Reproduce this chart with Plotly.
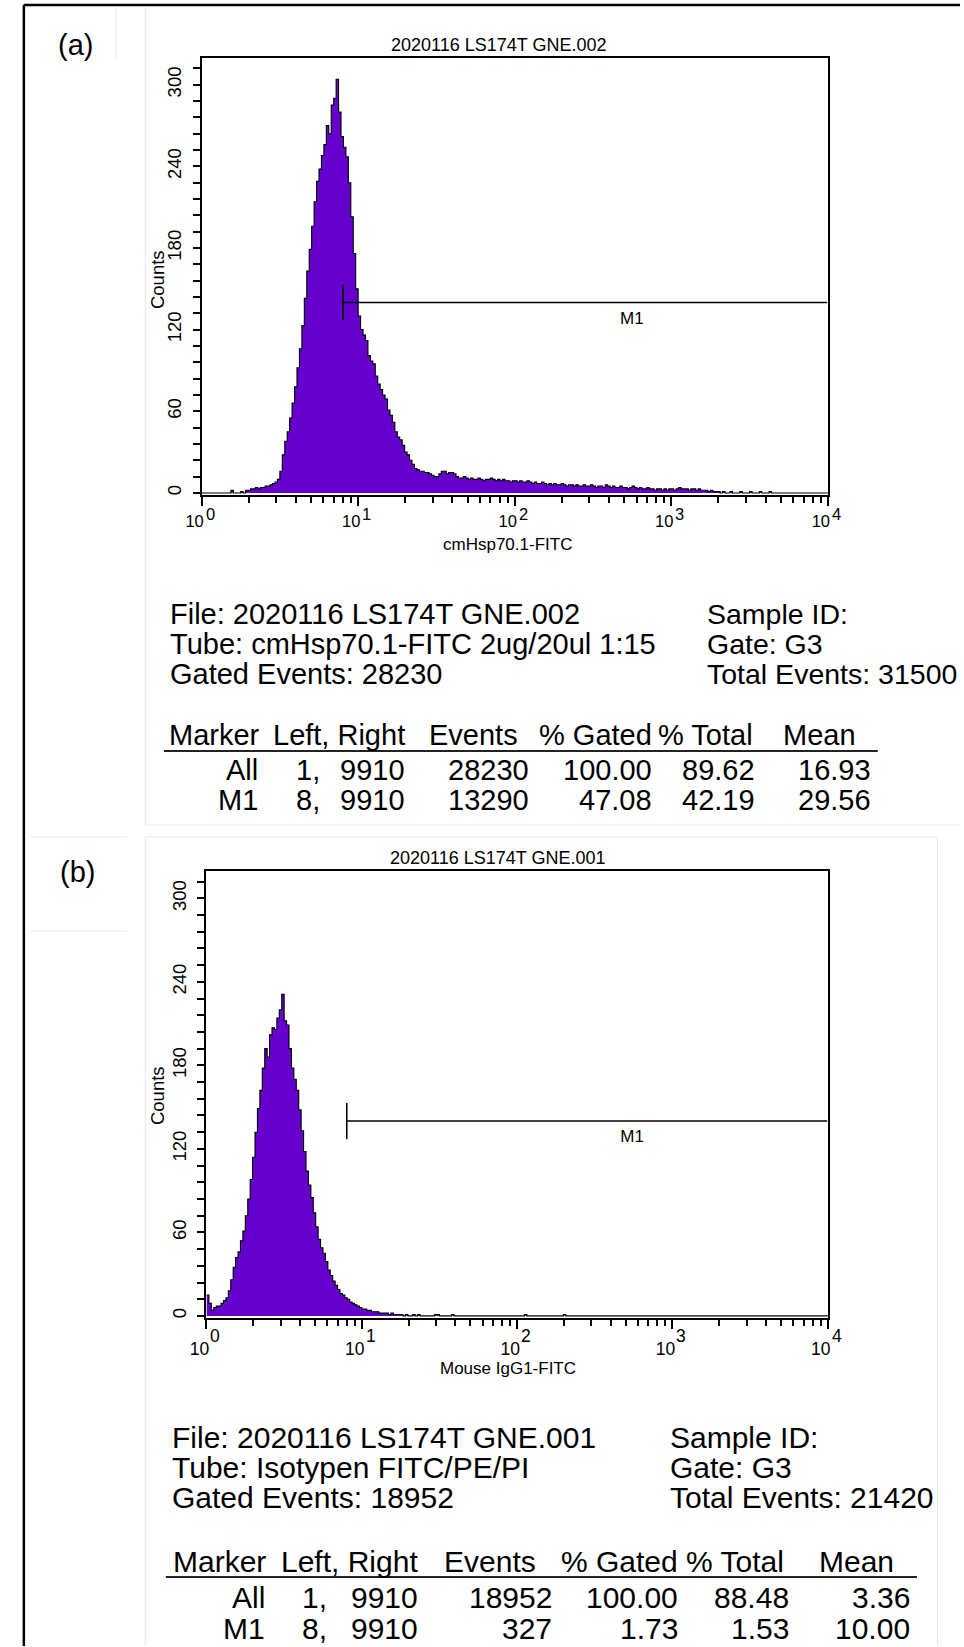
import plotly.graph_objects as go

W, H = 964, 1647
FONT = "Liberation Sans, Arial, Helvetica, sans-serif"
FILL = "#6600cc"

# ---------------------------------------------------------------------------
# Histogram data: 64 channels per decade over 10^0 .. 10^4 (256 channels)
# ---------------------------------------------------------------------------
BINS_PER_DECADE = 64
N_BINS = 256
edges = [10 ** (i / BINS_PER_DECADE) for i in range(N_BINS + 1)]

# cmHsp70.1-FITC stained sample (counts per channel)
counts_a = [
    0, 0, 0, 0, 0, 0, 0, 0, 0, 0, 0, 0, 2, 0, 0, 0,
    1, 0, 2, 2, 3, 3, 4, 3, 4, 4, 5, 5, 6, 7, 8, 10,
    16, 28, 38, 45, 55, 66, 78, 92, 106, 123, 143, 163, 179, 196, 214, 229,
    238, 248, 256, 270, 264, 285, 290, 304, 280, 262, 254, 247, 228, 203, 176, 150,
    130, 120, 116, 112, 101, 97, 95, 86, 80, 76, 72, 69, 61, 57, 52, 45,
    41, 39, 35, 30, 28, 24, 21, 18, 17, 16, 16, 15, 15, 14, 13, 12,
    12, 14, 16, 16, 14, 15, 15, 14, 12, 11, 11, 12, 11, 10, 11, 10,
    10, 11, 10, 9, 10, 10, 11, 10, 9, 10, 9, 10, 9, 9, 8, 9,
    9, 8, 9, 8, 8, 9, 8, 7, 8, 7, 7, 8, 7, 6, 7, 6,
    7, 6, 6, 7, 6, 5, 6, 6, 5, 6, 5, 5, 6, 5, 5, 6,
    5, 4, 5, 5, 4, 6, 5, 4, 5, 4, 4, 5, 4, 4, 3, 4,
    5, 4, 3, 4, 3, 3, 4, 3, 3, 2, 3, 3, 2, 3, 2, 3,
    3, 2, 3, 4, 3, 3, 3, 2, 3, 3, 2, 3, 2, 2, 2, 1,
    2, 1, 1, 1, 0, 1, 0, 0, 1, 0, 0, 0, 1, 0, 0, 0,
    1, 0, 0, 0, 1, 0, 0, 0, 1, 0, 0, 0, 0, 0, 0, 0,
    0, 0, 0, 0, 0, 0, 0, 0, 0, 0, 0, 0, 0, 0, 0, 0,
]

# Mouse IgG1-FITC isotype control (counts per channel)
counts_b = [
    15, 9, 4, 6, 7, 7, 9, 11, 13, 18, 26, 35, 42, 46, 54, 61,
    72, 84, 98, 114, 132, 149, 162, 178, 192, 186, 202, 207, 206, 214, 220, 231,
    212, 209, 192, 178, 170, 162, 148, 133, 118, 104, 94, 85, 74, 64, 55, 49,
    45, 39, 33, 29, 25, 22, 19, 16, 15, 13, 12, 10, 9, 8, 7, 6,
    5, 5, 4, 4, 3, 3, 3, 2, 2, 2, 2, 1, 2, 1, 1, 1,
    1, 0, 1, 0, 0, 1, 0, 1, 0, 0, 0, 0, 0, 0, 1, 1,
    0, 0, 0, 0, 0, 1, 0, 0, 0, 0, 0, 0, 0, 0, 0, 0,
    0, 0, 0, 0, 0, 0, 0, 0, 0, 0, 0, 0, 0, 0, 0, 0,
    0, 0, 0, 1, 0, 0, 0, 0, 0, 0, 0, 0, 0, 0, 0, 0,
    0, 0, 0, 1, 0, 0, 0, 0, 0, 0, 0, 0, 0, 0, 0, 0,
    0, 0, 0, 0, 0, 0, 0, 0, 0, 0, 0, 0, 0, 0, 0, 0,
    0, 0, 0, 0, 0, 0, 0, 0, 0, 0, 0, 0, 0, 0, 0, 0,
    0, 0, 0, 0, 0, 0, 0, 0, 0, 0, 0, 0, 0, 0, 0, 0,
    0, 0, 0, 0, 0, 0, 0, 0, 0, 0, 0, 0, 0, 0, 0, 0,
    0, 0, 0, 0, 0, 0, 0, 0, 0, 0, 0, 0, 0, 0, 0, 0,
    0, 0, 0, 0, 0, 0, 0, 0, 0, 0, 0, 0, 0, 0, 0, 0,
]

# Marker M1 gate (channel values) and its drawing level (counts)
m1_left, m1_right = 8, 9910
m1_level = 140
m1_half_bar = 13

# Axis ticks: decades labelled as 10 with a raised exponent
x_major = [1, 10, 100, 1000, 10000]
x_exponents = [0, 1, 2, 3, 4]
x_minor = [k * 10 ** d for d in range(4) for k in range(2, 10)]
y_major = [0, 60, 120, 180, 240, 300]

# Texts
title_a = "2020116 LS174T GNE.002"
title_b = "2020116 LS174T GNE.001"
xlabel_a = "cmHsp70.1-FITC"
xlabel_b = "Mouse IgG1-FITC"
ylabel = "Counts"

info_left_a = ["File: 2020116 LS174T GNE.002",
               "Tube: cmHsp70.1-FITC 2ug/20ul 1:15",
               "Gated Events: 28230"]
info_right_a = ["Sample ID:", "Gate: G3", "Total Events: 31500"]
info_left_b = ["File: 2020116 LS174T GNE.001",
               "Tube: Isotypen FITC/PE/PI",
               "Gated Events: 18952"]
info_right_b = ["Sample ID:", "Gate: G3", "Total Events: 21420"]

table_header = ["Marker", "Left, Right", "Events", "% Gated", "% Total", "Mean"]
rows_a = [["All", "1,", "9910", "28230", "100.00", "89.62", "16.93"],
          ["M1", "8,", "9910", "13290", "47.08", "42.19", "29.56"]]
rows_b = [["All", "1,", "9910", "18952", "100.00", "88.48", "3.36"],
          ["M1", "8,", "9910", "327", "1.73", "1.53", "10.00"]]

# ---------------------------------------------------------------------------
fig = go.Figure()


def px_x(p):
    return p / W


def px_y(p):
    return 1 - p / H


def add_histogram(counts, xa, ya, label_x, label_y):
    fig.add_trace(go.Scatter(
        x=edges, y=counts + [counts[-1]], mode="lines",
        line=dict(color="black", width=1.1, shape="hv"),
        fill="tozeroy", fillcolor=FILL,
        xaxis=xa, yaxis=ya, hoverinfo="skip", showlegend=False))
    # M1 gate marker
    fig.add_trace(go.Scatter(
        x=[m1_left, m1_left, None, m1_left, m1_right],
        y=[m1_level - m1_half_bar, m1_level + m1_half_bar, None, m1_level, m1_level],
        mode="lines", line=dict(color="black", width=1.6),
        xaxis=xa, yaxis=ya, hoverinfo="skip", showlegend=False))
    fig.add_trace(go.Scatter(
        x=[label_x], y=[label_y], mode="text", text=["M1"],
        textfont=dict(family=FONT, size=17, color="black"),
        xaxis=xa, yaxis=ya, hoverinfo="skip", showlegend=False))


add_histogram(counts_a, "x", "y", 560, 127)
add_histogram(counts_b, "x2", "y2", 550, 128)


def x_axis(domain, anchor, standoff, size):
    return dict(
        domain=domain, anchor=anchor, type="log", range=[0, 4],
        tickmode="array", tickvals=x_major, ticktext=["10"] * len(x_major),
        ticks="outside", ticklen=9, tickwidth=1.5, tickcolor="black",
        ticklabelstandoff=standoff, ticklabelshift=-7,
        tickfont=dict(family=FONT, size=size, color="black"),
        showline=True, linewidth=2, linecolor="black", mirror=True,
        showgrid=False, zeroline=False, fixedrange=True,
        minor=dict(tickmode="array", tickvals=x_minor, ticks="outside",
                   ticklen=6, tickwidth=1.5, tickcolor="black", showgrid=False),
    )


def y_axis(domain, anchor):
    return dict(
        domain=domain, anchor=anchor, range=[-1.5, 320],
        tickmode="array", tickvals=y_major, tickangle=-90,
        ticks="outside", ticklen=7, tickwidth=1.5, tickcolor="black",
        ticklabelstandoff=4,
        tickfont=dict(family=FONT, size=18.5, color="black"),
        showline=True, linewidth=2, linecolor="black", mirror=True,
        showgrid=False, zeroline=False, fixedrange=True,
        minor=dict(dtick=12, tick0=0, ticks="outside", ticklen=7,
                   tickwidth=1.5, tickcolor="black", showgrid=False),
    )


annotations = []


def text(s, x, y, size, xanchor="left", angle=0):
    annotations.append(dict(
        text=s, x=px_x(x), y=px_y(y), xref="paper", yref="paper",
        xanchor=xanchor, yanchor="middle", showarrow=False, textangle=angle,
        borderpad=0, borderwidth=0,
        font=dict(family=FONT, size=size, color="black")))


def exponents(xref, y, size):
    # raised decade exponents placed just right of each "10" tick label
    for e in x_exponents:
        annotations.append(dict(
            text=str(e), x=e, y=px_y(y), xref=xref, yref="paper",
            xanchor="left", yanchor="middle", xshift=4, showarrow=False,
            borderpad=0, borderwidth=0,
            font=dict(family=FONT, size=size, color="black")))


def panel_texts(tag, tag_xy, title, title_xy, xlabel, xlabel_xy, ylabel_xy,
                info_l, info_r, info_x, info_ys, size, size_r,
                header_y, header_marker_x, header_rights,
                rows, row_ys, row_rights):
    text(tag, tag_xy[0], tag_xy[1], 29, "center")
    text(title, title_xy[0], title_xy[1], 18, "center")
    text(xlabel, xlabel_xy[0], xlabel_xy[1], 17, "center")
    text(ylabel, ylabel_xy[0], ylabel_xy[1], 18.5, "center", angle=-90)
    for s, y in zip(info_l, info_ys):
        text(s, info_x[0], y, size)
    for s, y in zip(info_r, info_ys):
        text(s, info_x[1], y, size_r)
    text(table_header[0], header_marker_x, header_y, size)
    for s, xr in zip(table_header[1:], header_rights):
        text(s, xr, header_y, size, "right")
    for row, y in zip(rows, row_ys):
        for s, xr in zip(row, row_rights):
            text(s, xr, y, size, "right")


panel_texts("(a)", (60, 45), title_a, (492, 45), xlabel_a, (501, 544), (143, 280),
            info_left_a, info_right_a, (156, 705), [614, 644, 674], 29, 28.5,
            735, 155, [396, 512, 648, 752, 857],
            rows_a, [770, 800], [246, 309, 396, 523, 648, 754, 872])

panel_texts("(b)", (62, 872), title_b, (491, 858), xlabel_b, (501, 1368), (143, 1096),
            info_left_b, info_right_b, (158, 667), [1437, 1467, 1497], 30, 30,
            1561, 159, [409, 530, 675, 783, 896],
            rows_b, [1597, 1628], [253, 317, 409, 546, 675, 788, 912])

exponents("x", 514, 16.5)
exponents("x2", 1336, 17.5)

shapes = []


def line(x0, y0, x1, y1, color, width):
    shapes.append(dict(type="line", xref="paper", yref="paper",
                       x0=px_x(x0), y0=px_y(y0), x1=px_x(x1), y1=px_y(y1),
                       line=dict(color=color, width=width)))


# faint panel borders
PALE = "#e9e9e9"
line(101, 8, 101, 60, PALE, 1)
line(131, 8, 131, 825, PALE, 1)
line(131, 825, 963, 825, PALE, 1)
line(13, 837, 112, 837, PALE, 1)
line(13, 931, 112, 931, PALE, 1)
line(131, 837, 940, 837, PALE, 1)
line(131, 837, 131, 1646, PALE, 1)
line(940, 837, 940, 1646, PALE, 1)

# table header rules
line(150, 751, 879, 751, "#222222", 2)
line(152, 1577, 919, 1577, "#222222", 2)

# outer frame
line(7, 5, 963, 5, "black", 2.5)
line(7, 5, 7, 1646, "black", 2.5)

fig.update_layout(
    width=W, height=H,
    margin=dict(l=0, r=0, t=0, b=0),
    paper_bgcolor="white", plot_bgcolor="white",
    showlegend=False,
    xaxis=x_axis([px_x(188.5), px_x(828)], "y", 1, 16.5),
    yaxis=y_axis([px_y(495), px_y(57.5)], "x"),
    xaxis2=x_axis([px_x(193.5), px_x(828)], "y2", 5, 17.5),
    yaxis2=y_axis([px_y(1318), px_y(870.5)], "x2"),
    annotations=annotations,
    shapes=shapes,
)

fig.write_html("out.html")
